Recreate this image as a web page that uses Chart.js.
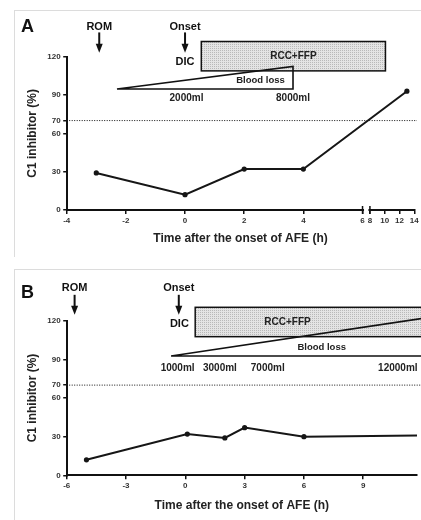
<!DOCTYPE html>
<html>
<head>
<meta charset="utf-8">
<script src="https://cdn.jsdelivr.net/npm/chart.js@4.4.1/dist/chart.umd.min.js"></script>
<style>
  html, body { margin: 0; padding: 0; background: #fff; overflow: hidden; }
  .frame { position: absolute; box-sizing: border-box; border-left: 1px solid #dcdcdc; border-top: 1px solid #dcdcdc; }
  .panel { position: absolute; left: 0; width: 421px; }
</style>
</head>
<body>
<div class="frame" style="left:14px;top:10px;width:407px;height:247px"></div>
<div class="frame" style="left:14px;top:269px;width:407px;height:251px"></div>
<div class="panel" style="top:0;height:262px"><canvas id="chartA"></canvas></div>
<div class="panel" style="top:262px;height:258px"><canvas id="chartB"></canvas></div>
<script>
// PANEL A - patient with broken time axis
const timesA = [-3, 0, 2, 4, 13];
const c1A = [29, 12, 32, 32, 93];
const xTicksA = [-4, -2, 0, 2, 4, 6, 8, 10, 12, 14];

// PANEL B
const timesB = [-5, 0.1, 2, 3, 6, 12];
const c1B = [12, 32, 29, 37, 30, 31];
const xTicksB = [-6, -3, 0, 3, 6, 9];

const yTicks = [0, 30, 60, 70, 90, 120];
const normalLevel = 70;

const FONT = 'Liberation Sans, Arial, sans-serif';

// broken axis: 6 -> 8 is cut out, 8..14 squeezed
const BREAK_AT = 6, RESUME_AT = 8, GAP = 0.25, SQUEEZE = 0.25;

function toAxis(t) {
    if (t <= BREAK_AT) return t;
    if (t >= RESUME_AT) return BREAK_AT + GAP + (t - RESUME_AT) * SQUEEZE;
    return BREAK_AT + (t - BREAK_AT) / (RESUME_AT - BREAK_AT) * GAP;
}

function fromAxis(u) {
    if (u <= BREAK_AT) return u;
    if (u >= BREAK_AT + GAP) return RESUME_AT + (u - BREAK_AT - GAP) / SQUEEZE;
    return BREAK_AT + (u - BREAK_AT) / GAP * (RESUME_AT - BREAK_AT);
}

class BrokenScale extends Chart.LinearScale {
    getPixelForValue(v) { return super.getPixelForValue(toAxis(v)); }
    getValueForPixel(p) { return fromAxis(super.getValueForPixel(p)); }
}
BrokenScale.id = 'broken';
BrokenScale.defaults = {};
Chart.register(BrokenScale);

function stipple(ctx) {
    const c = document.createElement('canvas');
    c.width = 2; c.height = 2;
    const g = c.getContext('2d');
    g.fillStyle = '#e4e4e4'; g.fillRect(0, 0, 2, 2);
    g.fillStyle = '#b9b9b9'; g.fillRect(0, 0, 1, 1);
    return ctx.createPattern(c, 'repeat');
}

function arrow(ctx, x, y0, y1) {
    ctx.lineWidth = 2;
    ctx.beginPath(); ctx.moveTo(x, y0); ctx.lineTo(x, y1 - 6); ctx.stroke();
    ctx.beginPath();
    ctx.moveTo(x - 3.5, y1 - 9); ctx.lineTo(x + 3.5, y1 - 9); ctx.lineTo(x, y1);
    ctx.closePath(); ctx.fill();
}

function text(ctx, s, x, y, size, align) {
    ctx.font = 'bold ' + size + 'px ' + FONT;
    ctx.textAlign = align || 'center';
    ctx.textBaseline = 'middle';
    ctx.fillText(s, x, y);
}

// annotations on top of each panel
function notesPlugin(n) {
    return {
        id: 'notes',
        beforeDatasetsDraw(chart) {
            const {ctx, chartArea} = chart;
            const y = chart.scales.y.getPixelForValue(normalLevel);
            ctx.save();
            ctx.strokeStyle = '#111';
            ctx.lineWidth = 1;
            ctx.setLineDash([1, 1.5]);
            ctx.beginPath();
            ctx.moveTo(chartArea.left, y);
            ctx.lineTo(n.dotEnd, y);
            ctx.stroke();
            ctx.restore();
        },
        afterDraw(chart) {
            const {ctx} = chart;
            const xs = chart.scales.x, ys = chart.scales.y;
            const px = v => xs.getPixelForValue(v);
            const py = v => ys.getPixelForValue(v);
            ctx.save();
            ctx.fillStyle = '#111';
            ctx.strokeStyle = '#111';

            text(ctx, n.letter, 21, n.letterY, 18, 'left');

            n.events.forEach(e => {
                text(ctx, e.label, px(e.x), py(e.labelY), 11);
                arrow(ctx, px(e.x), py(e.from), py(e.to));
            });
            text(ctx, 'DIC', px(n.dic.x), py(n.dic.y), 11);

            // transfusion box
            const bx0 = px(n.box.x0), bx1 = px(n.box.x1);
            const by0 = py(n.box.y1), by1 = py(n.box.y0);
            ctx.fillStyle = stipple(ctx);
            ctx.fillRect(bx0, by0, bx1 - bx0, by1 - by0);
            ctx.lineWidth = 1.5;
            ctx.strokeRect(bx0, by0, bx1 - bx0, by1 - by0);
            ctx.fillStyle = '#222';
            text(ctx, 'RCC+FFP', n.box.textX !== undefined ? px(n.box.textX) : (bx0 + bx1) / 2, py(n.box.textY), 10);

            // blood loss wedge
            const t = n.wedge;
            ctx.strokeStyle = '#111';
            ctx.lineWidth = 1.6;
            ctx.beginPath();
            ctx.moveTo(px(t.x0), py(t.base));
            ctx.lineTo(px(t.x1), py(t.top));
            ctx.lineTo(px(t.x1), py(t.base));
            ctx.closePath();
            ctx.stroke();
            text(ctx, 'Blood loss', px(t.textX), py(t.textY), 9.5);
            n.volumes.forEach(v => text(ctx, v.label, px(v.x), py(n.volumeY), 10));

            // axis break
            if (n.broken) {
                const a = px(BREAK_AT), b = px(RESUME_AT), yb = ys.bottom;
                ctx.fillStyle = '#fff';
                ctx.fillRect(a + 1.5, yb - 2, b - a - 3, 4);
                ctx.fillStyle = '#111';
                ctx.lineWidth = 1.5;
                [a, b].forEach(x => {
                    ctx.beginPath(); ctx.moveTo(x, yb - 4); ctx.lineTo(x, yb + 4); ctx.stroke();
                });
            }
            ctx.restore();
        }
    };
}

function axisY(padTop) {
    return {
        min: 0, max: 120,
        afterBuildTicks: s => { s.ticks = yTicks.map(v => ({value: v})); },
        afterFit: s => { s.width = 66.7; },
        border: {display: true, color: '#111', width: 2},
        grid: {drawOnChartArea: false, drawTicks: true, tickLength: 3.5, color: '#111', lineWidth: 1.5},
        ticks: {color: '#333', padding: 2.5, font: {family: FONT, size: 8, weight: 'bold'}},
        title: {display: true, text: 'C1 inhibitor (%)', color: '#222',
                padding: {top: padTop, bottom: 0}, font: {family: FONT, size: 12, weight: 'bold'}}
    };
}

function axisX(opts, height, padBottom) {
    return Object.assign({
        afterFit: s => { s.height = height; },
        border: {display: true, color: '#111', width: 2},
        grid: {drawOnChartArea: false, drawTicks: true, tickLength: 4, color: '#111', lineWidth: 1.5},
        ticks: {color: '#333', padding: 2, autoSkip: false, maxRotation: 0,
                font: {family: FONT, size: 8, weight: 'bold'}, callback: v => String(v)},
        title: {display: true, text: 'Time after the onset of AFE (h)', color: '#222',
                padding: {top: 0, bottom: padBottom}, font: {family: FONT, size: 12, weight: 'bold'}}
    }, opts);
}

function lineSet(xs, ys) {
    return {
        data: xs.map((x, i) => ({x: x, y: ys[i]})),
        borderColor: '#161616',
        backgroundColor: '#161616',
        borderWidth: 2,
        pointRadius: 2.6,
        pointBorderWidth: 0,
        tension: 0
    };
}

const common = {
    responsive: true,
    maintainAspectRatio: false,
    animation: false,
    plugins: {legend: {display: false}, tooltip: {enabled: false}}
};

new Chart(document.getElementById('chartA'), {
    type: 'line',
    data: {datasets: [lineSet(timesA, c1A)]},
    options: Object.assign({}, common, {
        layout: {padding: {top: 56.7, right: 6.7, left: 0, bottom: 0}},
        scales: {
            x: axisX({
                type: 'broken', min: -4, max: toAxis(14),
                afterBuildTicks: s => { s.ticks = xTicksA.map(v => ({value: v})); }
            }, 52, 15.8),
            y: axisY(25.8)
        }
    }),
    plugins: [notesPlugin({
        letter: 'A', letterY: 27, dotEnd: 417, broken: true,
        events: [
            {label: 'ROM', x: -2.9, labelY: 143.5, from: 139, to: 123},
            {label: 'Onset', x: 0, labelY: 143.5, from: 139, to: 123}
        ],
        dic: {x: 0, y: 116},
        box: {x0: 0.55, x1: 10.1, y0: 108.9, y1: 131.9, textY: 120},
        wedge: {x0: -2.3, x1: 3.65, base: 94.7, top: 112.4, textX: 2.55, textY: 101.2},
        volumes: [{label: '2000ml', x: 0.05}, {label: '8000ml', x: 3.65}],
        volumeY: 87.1
    })]
});

new Chart(document.getElementById('chartB'), {
    type: 'line',
    data: {datasets: [lineSet(timesB, c1B)]},
    options: Object.assign({}, common, {
        layout: {padding: {top: 58.7, right: 0, left: 0, bottom: 0}},
        scales: {
            x: axisX({
                type: 'linear', min: -6, max: 11.72,
                afterBuildTicks: s => { s.ticks = xTicksB.map(v => ({value: v})); }
            }, 44.7, 6.8),
            y: axisY(25.8)
        }
    }),
    plugins: [notesPlugin({
        letter: 'B', letterY: 31, dotEnd: 421, broken: false,
        events: [
            {label: 'ROM', x: -5.6, labelY: 145.4, from: 140.1, to: 124.6},
            {label: 'Onset', x: -0.33, labelY: 145.4, from: 140.1, to: 124.6}
        ],
        dic: {x: -0.3, y: 117.5},
        box: {x0: 0.5, x1: 14, y0: 107.6, y1: 130.4, textX: 5.17, textY: 118.5},
        wedge: {x0: -0.72, x1: 12, base: 92.6, top: 121.8, textX: 6.9, textY: 99.6},
        volumes: [{label: '1000ml', x: -0.39}, {label: '3000ml', x: 1.75},
                  {label: '7000ml', x: 4.17}, {label: '12000ml', x: 10.75}],
        volumeY: 83.1
    })]
});
</script>
</body>
</html>
